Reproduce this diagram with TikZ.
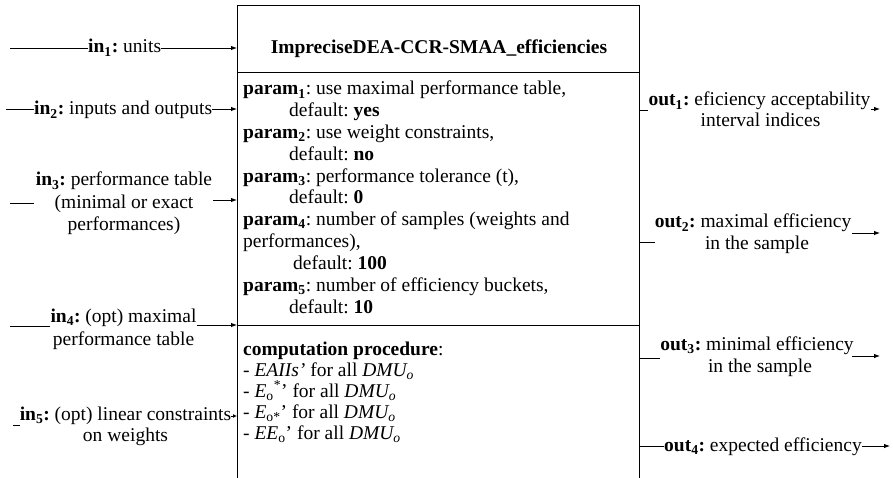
\documentclass[tikz,border=0pt]{standalone}
\usepackage{fontspec}
\setmainfont{Liberation Serif}
\usetikzlibrary{arrows.meta}
\frenchspacing
\newcommand\prm[1]{\textbf{param\textsubscript{#1}}}
\newcommand\inl[1]{\textbf{in\textsubscript{#1}:}}
\newcommand\outl[1]{\textbf{out\textsubscript{#1}:}}
\newcommand\dmu{\textit{DMU\textsubscript{o}}}
\begin{document}
\begin{tikzpicture}[x=1pt,y=-1pt,
  txt/.style={inner sep=0pt, font=\fontsize{19.5}{22}\selectfont},
  lw/.style={txt, anchor=base west},
  lc/.style={txt, anchor=base},
  conn/.style={line width=0.9pt},
  arr/.style={conn,-{Latex[length=6pt,width=4.5pt]}},
  boxline/.style={line width=1pt}]
\useasboundingbox (0,0) rectangle (893,478);
% box
\coordinate (bBL) at (237,478); \coordinate (bTL) at (237,6);
\coordinate (bTR) at (639,6);   \coordinate (bBR) at (639,478);
\draw[boxline] (bBL) -- (bTL) -- (bTR) -- (bBR);
\coordinate (s1L) at (237,73); \coordinate (s1R) at (639,73);
\coordinate (s2L) at (237,325); \coordinate (s2R) at (639,325);
\draw[boxline] (s1L) -- (s1R);
\draw[boxline] (s2L) -- (s2R);
% title
\node[lc, font=\fontsize{19.5}{22}\selectfont\bfseries] (title) at (439,54) {ImpreciseDEA-CCR-SMAA\_efficiencies};
% parameters
\node[lw] (p1) at (243,95) {\prm{1}: use maximal performance table,};
\node[lw] (p2) at (289,116.8) {default: \textbf{yes}};
\node[lw] (p3) at (243,138.6) {\prm{2}: use weight constraints,};
\node[lw] (p4) at (289,160.4) {default: \textbf{no}};
\node[lw] (p5) at (243,182.2) {\prm{3}: performance tolerance (t),};
\node[lw] (p6) at (289,204) {default: \textbf{0}};
\node[lw] (p7) at (243,225.8) {\prm{4}: number of samples (weights and};
\node[lw] (p8) at (243,247.6) {performances),};
\node[lw] (p9) at (293,269.4) {default: \textbf{100}};
\node[lw] (p10) at (243,291.2) {\prm{5}: number of efficiency buckets,};
\node[lw] (p11) at (289,313) {default: \textbf{10}};
% computation
\node[lw] (c1) at (243,355) {\textbf{computation procedure}:};
\node[lw] (c2) at (243,376) {- \textit{EAIIs’} for all \dmu};
\node[lw] (c3) at (243,397) {- \textit{E}\textsubscript{o}\textsuperscript{*}’ for all \dmu};
\node[lw] (c4) at (243,418) {- \textit{E}\textsubscript{o*}’ for all \dmu};
\node[lw] (c5) at (243,439) {- \textit{EE}\textsubscript{o}’ for all \dmu};
% inputs
\node[lw] (in1) at (88,53) {\inl{1} units};
\coordinate (in1s) at (10,48); \coordinate (in1e) at (237,48);
\draw[conn] (in1s) -- (in1s -| in1.west);
\draw[arr] (in1e -| in1.east) -- (in1e);

\node[lw] (in2) at (34,115) {\inl{2} inputs and outputs};
\coordinate (in2s) at (6,109); \coordinate (in2e) at (237,109);
\draw[conn] (in2s) -- (in2s -| in2.west);
\draw[arr] (in2e -| in2.east) -- (in2e);

\node[lc] (in3a) at (124,186) {\inl{3} performance table};
\node[lc] (in3b) at (124,209) {(minimal or exact};
\node[lc] (in3c) at (124,231) {performances)};
\coordinate (in3s) at (10,203); \coordinate (in3m) at (34,203);
\coordinate (in3n) at (213,200); \coordinate (in3e) at (237,200);
\draw[conn] (in3s) -- (in3m);
\draw[arr] (in3n) -- (in3e);

\node[lc] (in4a) at (123.5,322) {\inl{4} (opt) maximal};
\node[lc] (in4b) at (123.5,345) {performance table};
\coordinate (in4s) at (10,326); \coordinate (in4e) at (237,325);
\draw[conn] (in4s) -- (in4s -| in4a.west);
\draw[arr] (in4e -| in4a.east) -- (in4e);

\node[lc] (in5a) at (125.5,420) {\inl{5} (opt) linear constraints};
\node[lc] (in5b) at (125.5,441) {on weights};
\coordinate (in5s) at (13,425); \coordinate (in5e) at (237,416);
\draw[conn] (in5s) -- (in5s -| in5a.west);
\draw[conn,-{Latex[length=4pt,width=4pt]}] (in5e -| in5a.east) -- (in5e);
% outputs
\node[lc] (o1a) at (759.5,106) {\outl{1} eficiency acceptability};
\node[lc] (o1b) at (760.5,127) {interval indices};
\coordinate (o1s) at (639,110); \coordinate (o1e) at (880,109);
\draw[conn] (o1s) -- (o1s -| o1a.west);
\draw[arr] (o1e -| o1a.east) -- (o1e);

\node[lc] (o2a) at (753,228) {\outl{2} maximal efficiency};
\node[lc] (o2b) at (757,249) {in the sample};
\coordinate (o2s) at (639,242); \coordinate (o2m) at (655,242);
\coordinate (o2n) at (852,233); \coordinate (o2e) at (880,233);
\draw[conn] (o2s) -- (o2m);
\draw[arr] (o2n) -- (o2e);

\node[lc] (o3a) at (757,350) {\outl{3} minimal efficiency};
\node[lc] (o3b) at (760,372) {in the sample};
\coordinate (o3s) at (639,358); \coordinate (o3m) at (660,358);
\coordinate (o3n) at (852,356); \coordinate (o3e) at (880,356);
\draw[conn] (o3s) -- (o3m);
\draw[arr] (o3n) -- (o3e);

\node[lw] (o4) at (664,451) {\outl{4} expected efficiency};
\coordinate (o4s) at (639,446); \coordinate (o4e) at (890,446);
\draw[conn] (o4s) -- (o4s -| o4.west);
\draw[arr] (o4e -| o4.east) -- (o4e);
\end{tikzpicture}
\end{document}
